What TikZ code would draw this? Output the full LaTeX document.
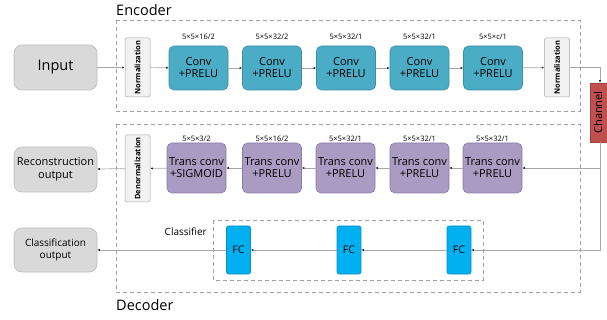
\documentclass[tikz,border=0pt]{standalone}
\usepackage{fontspec}
\setmainfont{Open Sans}
\usetikzlibrary{arrows.meta}
\definecolor{convfill}{HTML}{4BACC6}
\definecolor{convdraw}{HTML}{3A8FA6}
\definecolor{tcfill}{HTML}{A99BC1}
\definecolor{tcdraw}{HTML}{8A7AA8}
\definecolor{fcfill}{HTML}{00B0F0}
\definecolor{fcdraw}{HTML}{0A8FC4}
\definecolor{chfill}{HTML}{C0504D}
\definecolor{chdraw}{HTML}{A33E3B}
\definecolor{iofill}{HTML}{D9D9D9}
\definecolor{iodraw}{HTML}{BDBDBD}
\definecolor{nfill}{HTML}{F2F2F2}
\definecolor{ndraw}{HTML}{A6A6A6}
\definecolor{linegray}{HTML}{A6A6A6}
\definecolor{dashgray}{HTML}{A0A0A0}
\begin{document}
\begin{tikzpicture}[x=1pt,y=-1pt,
  io/.style={draw=iodraw, fill=iofill, rounded corners=8pt, minimum width=83pt, minimum height=45pt, inner sep=0pt, align=center, line width=0.6pt},
  normbox/.style={draw=ndraw, fill=nfill, rounded corners=1.5pt, minimum width=25pt, minimum height=59pt, inner sep=0pt, line width=0.5pt},
  normtext/.style={font=\fontsize{7.5}{8}\selectfont\bfseries, rotate=90, inner sep=0pt},
  convbox/.style={draw=convdraw, fill=convfill, rounded corners=5pt, minimum width=59pt, minimum height=44pt, inner sep=0pt, align=center, font=\fontsize{11}{12}\selectfont, line width=0.6pt},
  tcbox/.style={draw=tcdraw, fill=tcfill, rounded corners=5pt, minimum width=59pt, minimum height=50pt, inner sep=0pt, align=center, font=\fontsize{11}{12}\selectfont, line width=0.6pt},
  fcbox/.style={draw=fcdraw, fill=fcfill, rounded corners=2pt, minimum width=24pt, minimum height=48pt, inner sep=0pt, font=\fontsize{10.5}{11}\selectfont, line width=0.6pt},
  chbox/.style={draw=chdraw, fill=chfill, minimum width=20pt, minimum height=59pt, inner sep=0pt, line width=0.5pt},
  dimlbl/.style={font=\fontsize{7.5}{8}\selectfont, inner sep=0pt},
  dashbox/.style={draw=dashgray, dash pattern=on 4pt off 3pt, line width=0.7pt},
  title/.style={font=\fontsize{14.5}{15}\selectfont, anchor=west, inner sep=0pt},
  conn/.style={draw=linegray, line width=0.7pt, -{Latex[length=2.5pt,width=2.2pt,color=black!85]}}
]
\useasboundingbox (0,0) rectangle (607,320);

% dashed group boxes
\draw[dashbox] (116,20) rectangle (580,111);
\draw[dashbox] (116,124) rectangle (580,292);
\draw[dashbox] (213,220) rectangle (483,280);
\node[title] (enc) at (116,10) {Encoder};
\node[title] (dec) at (116,305) {Decoder};
\node[font=\fontsize{10}{11}\selectfont, anchor=east, inner sep=0pt] (clf) at (207,232) {Classifier};

% encoder row
\node[io, font=\fontsize{14.5}{15}\selectfont] (in) at (55.5,67.5) {Input};
\node[normbox] (n1) at (137.5,67.5) {};
\node[normtext] (n1t) at (n1.center) {Normalization};
\node[convbox] (c1) at (198.5,68) {Conv\\+PRELU};
\node[convbox] (c2) at (272,68) {Conv\\+PRELU};
\node[convbox] (c3) at (346,68) {Conv\\+PRELU};
\node[convbox] (c4) at (419.5,68) {Conv\\+PRELU};
\node[convbox] (c5) at (493,68) {Conv\\+PRELU};
\node[dimlbl] (l1) at (198.5,37) {5×5×16/2};
\node[dimlbl] (l2) at (272,37) {5×5×32/2};
\node[dimlbl] (l3) at (346,37) {5×5×32/1};
\node[dimlbl] (l4) at (419.5,37) {5×5×32/1};
\node[dimlbl] (l5) at (493,37) {5×5×c/1};
\node[normbox] (n2) at (557,67.5) {};
\node[normtext] (n2t) at (n2.center) {Normalization};
\node[chbox] (ch) at (600,112.5) {};
\node[rotate=90, font=\fontsize{11}{12}\selectfont, inner sep=0pt] (cht) at (598,112.5) {Channel};

% decoder row
\node[tcbox] (t1) at (196.5,168) {Trans conv\\+SIGMOID};
\node[tcbox] (t2) at (272,168) {Trans conv\\+PRELU};
\node[tcbox] (t3) at (345.5,168) {Trans conv\\+PRELU};
\node[tcbox] (t4) at (419.5,168) {Trans conv\\+PRELU};
\node[tcbox] (t5) at (492.5,168) {Trans conv\\+PRELU};
\node[dimlbl] (m1) at (196.5,138.5) {5×5×3/2};
\node[dimlbl] (m2) at (272,138.5) {5×5×16/2};
\node[dimlbl] (m3) at (345.5,138.5) {5×5×32/1};
\node[dimlbl] (m4) at (419.5,138.5) {5×5×32/1};
\node[dimlbl] (m5) at (492.5,138.5) {5×5×32/1};
\node[normbox, minimum height=67pt] (dn) at (137.5,168.5) {};
\node[normtext] (dnt) at (dn.center) {Denormalization};
\node[io, font=\fontsize{11}{13}\selectfont] (rec) at (55.5,169.5) {Reconstruction\\output};

% classifier row
\node[fcbox] (f1) at (238.5,250) {FC};
\node[fcbox] (f2) at (349,250) {FC};
\node[fcbox] (f3) at (459,250) {FC};
\node[io, font=\fontsize{10}{12}\selectfont, minimum height=44pt] (cls) at (55.5,250) {Classification\\output};

% connectors
\draw[conn] (in) -- (n1);
\draw[conn] (n1) -- (c1);
\draw[conn] (c1) -- (c2);
\draw[conn] (c2) -- (c3);
\draw[conn] (c3) -- (c4);
\draw[conn] (c4) -- (c5);
\draw[conn] (c5) -- (n2);
\draw[conn] (n2.east) -| (ch.north);
\coordinate (br) at (ch.south |- t5.east);
\draw[conn] (ch.south) |- (f3.east);
\draw[conn] (br) -- (t5.east);
\draw[conn] (t5) -- (t4);
\draw[conn] (t4) -- (t3);
\draw[conn] (t3) -- (t2);
\draw[conn] (t2) -- (t1);
\draw[conn] (t1) -- (dn);
\draw[conn] (dn) -- (rec);
\draw[conn] (f3) -- (f2);
\draw[conn] (f2) -- (f1);
\draw[conn] (f1) -- (cls);
\end{tikzpicture}
\end{document}
